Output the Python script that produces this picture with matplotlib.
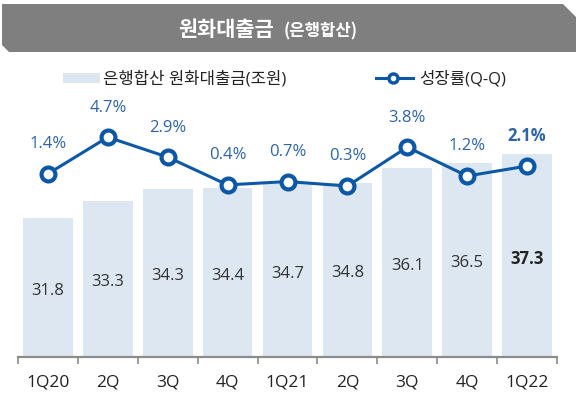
import matplotlib
matplotlib.use("Agg")
import matplotlib.pyplot as plt
from matplotlib.patches import Polygon, Rectangle
from matplotlib.lines import Line2D

plt.rcParams['font.family'] = ['Open Sans', 'Noto Sans CJK KR', 'DejaVu Sans']

# data
quarters = ["1Q20", "2Q", "3Q", "4Q", "1Q21", "2Q", "3Q", "4Q", "1Q22"]
loans = [31.8, 33.3, 34.3, 34.4, 34.7, 34.8, 36.1, 36.5, 37.3]   # 조원
growth = [1.4, 4.7, 2.9, 0.4, 0.7, 0.3, 3.8, 1.2, 2.1]          # %, Q-Q

bar_color = "#dce7f1"
line_color = "#0d58a6"
pct_color = "#2d64a8"
val_color = "#333333"
kr = ['Noto Sans CJK KR', 'DejaVu Sans']

fig = plt.figure(figsize=(5.76, 4.06), dpi=100)

# title banner (gray band with chamfered corners)
W, H = 576, 406
def fx(px):
    return px / W
def fy(py):
    return 1 - py / H
banner = Polygon([(fx(2), fy(5)), (fx(563), fy(5)), (fx(576), fy(18)),
                  (fx(576), fy(53)), (fx(9), fy(53)), (fx(2), fy(46))],
                 closed=True, transform=fig.transFigure, facecolor="#7f7f7f",
                 edgecolor="none")
fig.patches.append(banner)
fig.text(fx(274), fy(29), "원화대출금", color="white", fontsize=15,
         fontweight="bold", ha="right", va="center", family=kr)
fig.text(fx(284), fy(31), "(은행합산)", color="white", fontsize=12,
         fontweight="bold", ha="left", va="center", family=kr)

# axes
ax = fig.add_axes([fx(18), 48 / H, (557 - 18) / W, 258 / H])
x = list(range(len(quarters)))
ax.bar(x, loans, width=0.83, color=bar_color, zorder=1)
ax.set_xlim(-0.5, len(quarters) - 0.5)
ax.set_ylim(19.86, 42.02)

ylow = ax.get_ylim()[0]
for i, v in enumerate(loans):
    bold = i == len(loans) - 1
    ax.text(i, (ylow + v) / 2 - 0.2, f"{v:.1f}", ha="center", va="center",
            fontsize=12, color="#222222" if bold else val_color,
            fontweight="bold" if bold else "normal")

for s in ["top", "right", "left"]:
    ax.spines[s].set_visible(False)
ax.spines["bottom"].set_color("#8c8c8c")
ax.spines["bottom"].set_linewidth(1.6)
ax.set_yticks([])
ax.set_xticks([i - 0.5 for i in range(len(quarters) + 1)], minor=False)
ax.set_xticklabels([])
ax.tick_params(axis="x", which="major", length=5, width=1.2, color="#8c8c8c",
               direction="out")
ax.set_xticks(x, minor=True)
ax.set_xticklabels(quarters, minor=True, fontsize=12.5, color="#222222")
ax.tick_params(axis="x", which="minor", length=0, pad=12)

ax2 = ax.twinx()
ax2.set_ylim(-15.11, 8.14)
ax2.plot(x, growth, color=line_color, linewidth=2.2, marker="o",
         markersize=10, markerfacecolor="white", markeredgecolor=line_color,
         markeredgewidth=3, zorder=3, clip_on=False)
for i, g in enumerate(growth):
    bold = i == len(growth) - 1
    ax2.annotate(f"{g:.1f}%", (i, g), xytext=(0, 22), textcoords="offset points",
                 ha="center", va="center", fontsize=12, color=pct_color,
                 fontweight="bold" if bold else "normal")
ax2.set_yticks([])
for s in ax2.spines.values():
    s.set_visible(False)

# legend
fig.patches.append(Rectangle((fx(63), fy(84)), fx(100) - fx(63), fy(74) - fy(84),
                             transform=fig.transFigure, facecolor=bar_color,
                             edgecolor="none"))
fig.text(fx(103), fy(79), "은행합산 원화대출금(조원)", fontsize=12,
         color="#222222", ha="left", va="center")
fig.lines.append(Line2D([fx(376), fx(413)], [fy(79), fy(79)],
                        transform=fig.transFigure, color=line_color,
                        linewidth=2.2))
fig.lines.append(Line2D([fx(393)], [fy(79)], transform=fig.transFigure,
                        marker="o", markersize=6.5, markerfacecolor="white",
                        markeredgecolor=line_color, markeredgewidth=2.5))
fig.text(fx(419), fy(79), "성장률(Q-Q)", fontsize=12, color="#222222",
         ha="left", va="center")

plt.savefig("out.png", dpi=100)
